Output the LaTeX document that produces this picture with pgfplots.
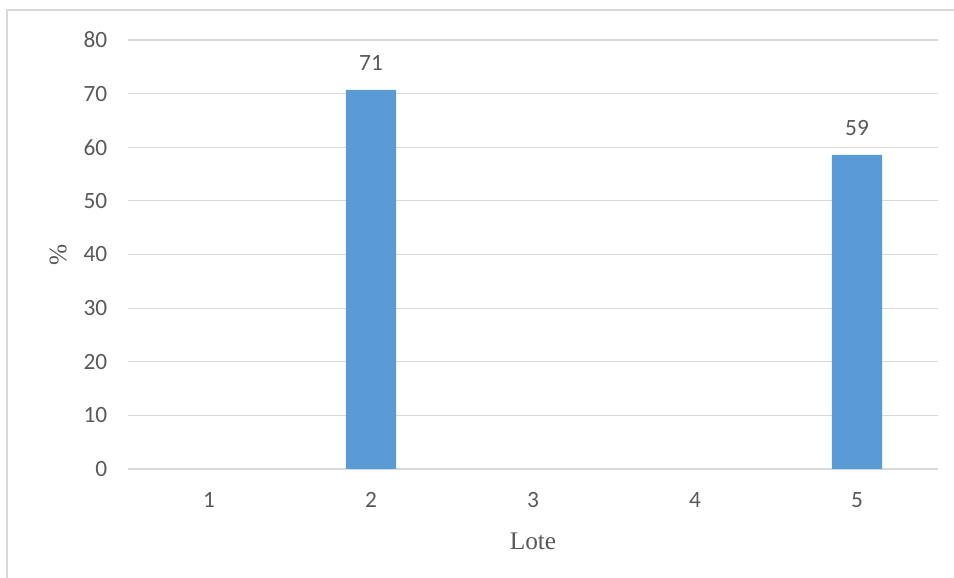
\documentclass[border=0pt]{standalone}
\usepackage{pgfplots}
\pgfplotsset{compat=1.18}
\usepackage{fontspec}
\setmainfont{Liberation Serif}
\newfontfamily\carlito{Carlito}
\definecolor{barblue}{HTML}{5B9BD5}
\definecolor{gridgray}{HTML}{D9D9D9}
\definecolor{txt}{HTML}{595959}
\begin{document}
\begin{tikzpicture}[x=1pt,y=1pt]
\path[use as bounding box] (-96,-81.75) rectangle (619.5,351.75);
\draw[gridgray, line width=1pt] (-90.75,-120) -- (-90.75,344.25) -- (700,344.25);
\begin{axis}[
  at={(0,0)}, anchor=south west,
  scale only axis, width=607.5pt, height=321.75pt,
  xmin=0.5, xmax=5.5, ymin=0, ymax=80,
  ytick={0,10,...,80}, xtick={1,2,3,4,5},
  /pgf/number format/assume math mode=true,
  axis x line*=bottom, axis y line*=left,
  y axis line style={draw=none},
  x axis line style={gridgray, line width=0.8pt, -},
  major tick length=0pt,
  ymajorgrids, grid style={gridgray, line width=0.8pt},
  ticklabel style={font=\carlito\fontsize{17.5}{20}\selectfont, text=txt},
  yticklabel style={xshift=-12pt},
  xticklabel style={yshift=-14pt},
  xlabel={Lote}, ylabel={\%},
  label style={font=\fontsize{19}{22}\selectfont, text=txt},
  xlabel style={at={([yshift=-54pt]axis description cs:0.5,0)}, anchor=center},
  ylabel style={at={([xshift=-52.5pt]axis description cs:0,0.5)}, anchor=center},
  nodes near coords,
  nodes near coords style={font=\carlito\fontsize{17.5}{20}\selectfont, text=txt, /pgf/number format/fixed, /pgf/number format/precision=0, /pgf/number format/assume math mode=true, yshift=11pt},
]
\addplot[ybar, bar width=0.309, fill=barblue, draw=none] coordinates {(2,70.7) (5,58.6)};
\end{axis}
\end{tikzpicture}
\end{document}
